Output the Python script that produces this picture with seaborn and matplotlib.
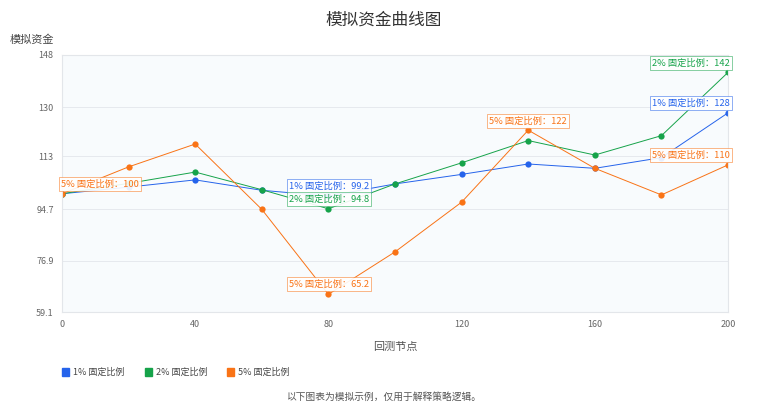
import pandas as pd
import matplotlib.pyplot as plt
import seaborn as sns

sns.set_style("white")
plt.rcParams['font.family'] = ['Noto Sans CJK SC', 'DejaVu Sans']

# Data
nodes = [0, 20, 40, 60, 80, 100, 120, 140, 160, 180, 200]
series_names = ["1% 固定比例", "2% 固定比例", "5% 固定比例"]
fund_1 = [100, 102.3, 104.8, 101.2, 99.2, 103.4, 106.7, 110.3, 108.8, 112.5, 128]
fund_2 = [100, 103.6, 107.5, 101.4, 94.8, 103.4, 110.7, 118.4, 113.4, 120.1, 142]
fund_5 = [100, 109.3, 117.2, 94.6, 65.2, 79.9, 97.1, 122, 108.8, 99.6, 110]
y_ticks = [59.1, 76.9, 94.7, 113, 130, 148]
x_ticks = [0, 40, 80, 120, 160, 200]

# labelled points: (series index, text)
point_labels = [
    (2, "5% 固定比例：100"),
    (0, "1% 固定比例：99.2"),
    (1, "2% 固定比例：94.8"),
    (2, "5% 固定比例：65.2"),
    (2, "5% 固定比例：122"),
    (1, "2% 固定比例：142"),
    (0, "1% 固定比例：128"),
    (2, "5% 固定比例：110"),
]
# label box centres in pixels
label_pos = [(100, 184), (329, 186), (329, 199), (329, 284),
             (528, 121), (691, 63), (691, 103), (691, 155)]

colors = ["#2563eb", "#16a34a", "#f97316"]

rows = []
for name, vals in zip(series_names, [fund_1, fund_2, fund_5]):
    for n, v in zip(nodes, vals):
        rows.append([n, v, name])
df = pd.DataFrame(rows, columns=["node", "fund", "series"])

fig = plt.figure(figsize=(7.68, 4.16), dpi=100)
ax = fig.add_axes([0.0807, 0.25, 0.8673, 0.6178])
ax.set_facecolor("#f8fbfd")

sns.lineplot(data=df, x="node", y="fund", hue="series", palette=colors,
             marker="o", markersize=4.5, markeredgewidth=0, linewidth=0.7,
             ax=ax, legend=False)

ax.set_xlim(0, 200)
ax.set_ylim(59.1, 148)
ax.set_xticks(x_ticks)
ax.set_yticks(y_ticks)
ax.set_yticklabels([str(t) for t in y_ticks])
ax.tick_params(axis="both", labelsize=6.5, colors="#666666", length=0, pad=6)
ax.grid(axis="y", color="#e6e9ee", linewidth=0.7)
for s in ax.spines.values():
    s.set_color("#e3e6ea")
    s.set_linewidth(0.8)

ax.set_xlabel("回测节点", fontsize=8, color="#555555", labelpad=9)
ax.set_ylabel("")
fig.text(0.041, 0.905, "模拟资金", fontsize=8, color="#444444", ha="center", va="center")
fig.text(0.5, 0.952, "模拟资金曲线图", fontsize=12, color="#333333", ha="center", va="center")

for (si, txt), (px, py) in zip(point_labels, label_pos):
    c = colors[si]
    fig.text(px / 768, 1 - py / 416, txt, fontsize=6.7, color=c, ha="center", va="center",
             bbox=dict(boxstyle="square,pad=0.25", fc="white", ec=c, lw=0.4, alpha=0.9))

# Legend
leg_x = [62, 145, 227]
for lx, name, c in zip(leg_x, series_names, colors):
    fig.patches.append(plt.Rectangle((lx / 768, 1 - 376 / 416), 7 / 768, 8 / 416,
                                     transform=fig.transFigure, color=c))
    fig.text((lx + 11) / 768, 1 - 372 / 416, name, fontsize=6.5, color="#444444",
             ha="left", va="center")

fig.text(0.5, 1 - 397 / 416, "以下图表为模拟示例，仅用于解释策略逻辑。", fontsize=7,
         color="#555555", ha="center", va="center")

fig.savefig("out.png", dpi=100)
